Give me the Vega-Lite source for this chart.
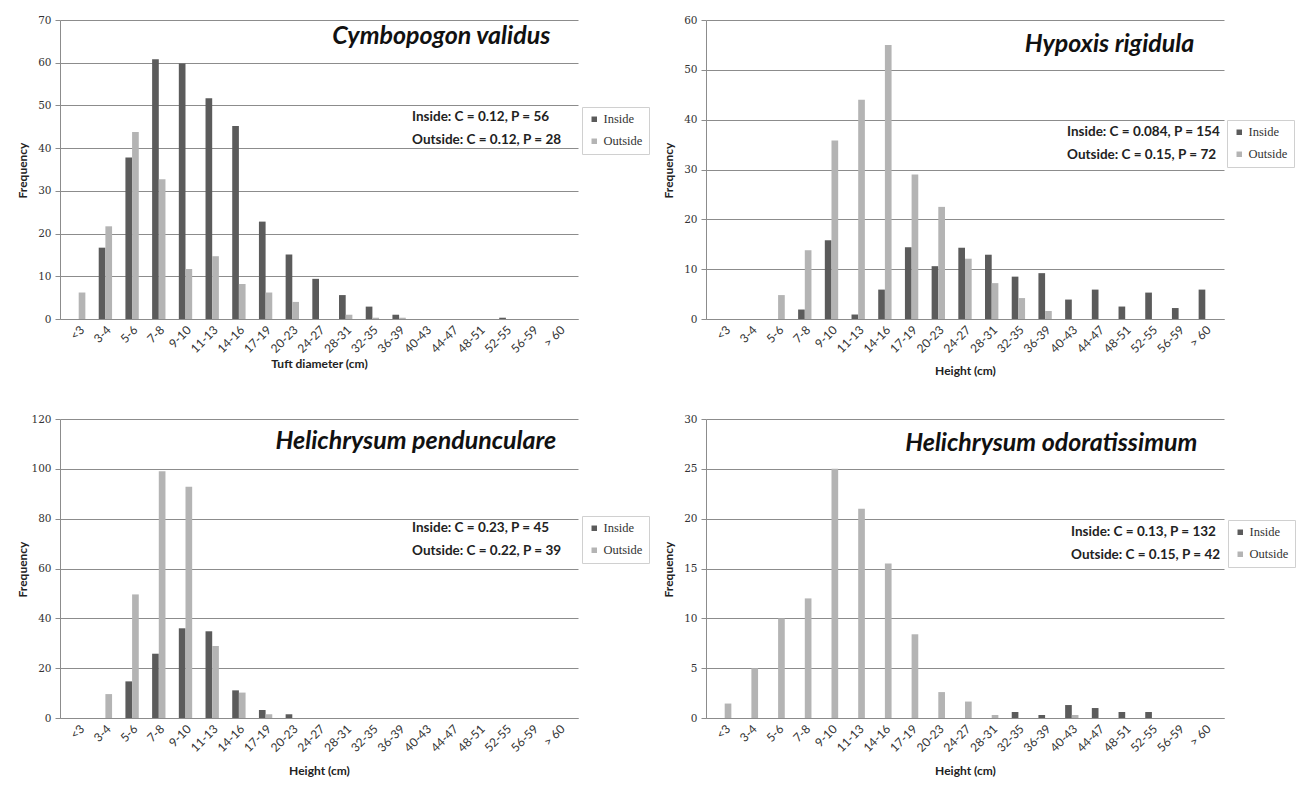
{
  "$schema": "https://vega.github.io/schema/vega-lite/v6.json",
  "background": "white",
  "padding": {"left": 16, "top": 15, "right": 0, "bottom": 5},
  "bounds": "flush",
  "columns": 2,
  "spacing": {"row": 100, "column": 128},
  "resolve": {"scale": {"color": "independent"}, "legend": {"color": "independent"}},
  "datasets": {
    "hist": [
      {"panel": "cv", "bin": "3-4", "group": "Inside", "freq": 16.7},
      {"panel": "cv", "bin": "5-6", "group": "Inside", "freq": 37.8},
      {"panel": "cv", "bin": "7-8", "group": "Inside", "freq": 60.8},
      {"panel": "cv", "bin": "9-10", "group": "Inside", "freq": 59.8},
      {"panel": "cv", "bin": "11-13", "group": "Inside", "freq": 51.7},
      {"panel": "cv", "bin": "14-16", "group": "Inside", "freq": 45.2},
      {"panel": "cv", "bin": "17-19", "group": "Inside", "freq": 22.8},
      {"panel": "cv", "bin": "20-23", "group": "Inside", "freq": 15.1},
      {"panel": "cv", "bin": "24-27", "group": "Inside", "freq": 9.4},
      {"panel": "cv", "bin": "28-31", "group": "Inside", "freq": 5.6},
      {"panel": "cv", "bin": "32-35", "group": "Inside", "freq": 2.9},
      {"panel": "cv", "bin": "36-39", "group": "Inside", "freq": 1.0},
      {"panel": "cv", "bin": "52-55", "group": "Inside", "freq": 0.3},
      {"panel": "cv", "bin": "<3", "group": "Outside", "freq": 6.2},
      {"panel": "cv", "bin": "3-4", "group": "Outside", "freq": 21.7},
      {"panel": "cv", "bin": "5-6", "group": "Outside", "freq": 43.8},
      {"panel": "cv", "bin": "7-8", "group": "Outside", "freq": 32.7},
      {"panel": "cv", "bin": "9-10", "group": "Outside", "freq": 11.7},
      {"panel": "cv", "bin": "11-13", "group": "Outside", "freq": 14.7},
      {"panel": "cv", "bin": "14-16", "group": "Outside", "freq": 8.2},
      {"panel": "cv", "bin": "17-19", "group": "Outside", "freq": 6.2},
      {"panel": "cv", "bin": "20-23", "group": "Outside", "freq": 4.0},
      {"panel": "cv", "bin": "28-31", "group": "Outside", "freq": 1.0},
      {"panel": "cv", "bin": "32-35", "group": "Outside", "freq": 0.3},
      {"panel": "cv", "bin": "36-39", "group": "Outside", "freq": 0.3},

      {"panel": "hr", "bin": "7-8", "group": "Inside", "freq": 1.9},
      {"panel": "hr", "bin": "9-10", "group": "Inside", "freq": 15.8},
      {"panel": "hr", "bin": "11-13", "group": "Inside", "freq": 0.9},
      {"panel": "hr", "bin": "14-16", "group": "Inside", "freq": 5.9},
      {"panel": "hr", "bin": "17-19", "group": "Inside", "freq": 14.4},
      {"panel": "hr", "bin": "20-23", "group": "Inside", "freq": 10.6},
      {"panel": "hr", "bin": "24-27", "group": "Inside", "freq": 14.3},
      {"panel": "hr", "bin": "28-31", "group": "Inside", "freq": 12.9},
      {"panel": "hr", "bin": "32-35", "group": "Inside", "freq": 8.5},
      {"panel": "hr", "bin": "36-39", "group": "Inside", "freq": 9.2},
      {"panel": "hr", "bin": "40-43", "group": "Inside", "freq": 3.9},
      {"panel": "hr", "bin": "44-47", "group": "Inside", "freq": 5.9},
      {"panel": "hr", "bin": "48-51", "group": "Inside", "freq": 2.5},
      {"panel": "hr", "bin": "52-55", "group": "Inside", "freq": 5.3},
      {"panel": "hr", "bin": "56-59", "group": "Inside", "freq": 2.2},
      {"panel": "hr", "bin": "> 60", "group": "Inside", "freq": 5.9},
      {"panel": "hr", "bin": "5-6", "group": "Outside", "freq": 4.8},
      {"panel": "hr", "bin": "7-8", "group": "Outside", "freq": 13.8},
      {"panel": "hr", "bin": "9-10", "group": "Outside", "freq": 35.8},
      {"panel": "hr", "bin": "11-13", "group": "Outside", "freq": 44.0},
      {"panel": "hr", "bin": "14-16", "group": "Outside", "freq": 55.0},
      {"panel": "hr", "bin": "17-19", "group": "Outside", "freq": 29.0},
      {"panel": "hr", "bin": "20-23", "group": "Outside", "freq": 22.5},
      {"panel": "hr", "bin": "24-27", "group": "Outside", "freq": 12.1},
      {"panel": "hr", "bin": "28-31", "group": "Outside", "freq": 7.2},
      {"panel": "hr", "bin": "32-35", "group": "Outside", "freq": 4.2},
      {"panel": "hr", "bin": "36-39", "group": "Outside", "freq": 1.6},

      {"panel": "hp", "bin": "5-6", "group": "Inside", "freq": 14.7},
      {"panel": "hp", "bin": "7-8", "group": "Inside", "freq": 25.8},
      {"panel": "hp", "bin": "9-10", "group": "Inside", "freq": 36.0},
      {"panel": "hp", "bin": "11-13", "group": "Inside", "freq": 34.8},
      {"panel": "hp", "bin": "14-16", "group": "Inside", "freq": 11.1},
      {"panel": "hp", "bin": "17-19", "group": "Inside", "freq": 3.2},
      {"panel": "hp", "bin": "20-23", "group": "Inside", "freq": 1.5},
      {"panel": "hp", "bin": "3-4", "group": "Outside", "freq": 9.6},
      {"panel": "hp", "bin": "5-6", "group": "Outside", "freq": 49.6},
      {"panel": "hp", "bin": "7-8", "group": "Outside", "freq": 99.0},
      {"panel": "hp", "bin": "9-10", "group": "Outside", "freq": 92.8},
      {"panel": "hp", "bin": "11-13", "group": "Outside", "freq": 28.9},
      {"panel": "hp", "bin": "14-16", "group": "Outside", "freq": 10.2},
      {"panel": "hp", "bin": "17-19", "group": "Outside", "freq": 1.5},

      {"panel": "ho", "bin": "32-35", "group": "Inside", "freq": 0.6},
      {"panel": "ho", "bin": "36-39", "group": "Inside", "freq": 0.3},
      {"panel": "ho", "bin": "40-43", "group": "Inside", "freq": 1.3},
      {"panel": "ho", "bin": "44-47", "group": "Inside", "freq": 1.0},
      {"panel": "ho", "bin": "48-51", "group": "Inside", "freq": 0.6},
      {"panel": "ho", "bin": "52-55", "group": "Inside", "freq": 0.6},
      {"panel": "ho", "bin": "<3", "group": "Outside", "freq": 1.45},
      {"panel": "ho", "bin": "3-4", "group": "Outside", "freq": 5.0},
      {"panel": "ho", "bin": "5-6", "group": "Outside", "freq": 10.0},
      {"panel": "ho", "bin": "7-8", "group": "Outside", "freq": 12.0},
      {"panel": "ho", "bin": "9-10", "group": "Outside", "freq": 25.0},
      {"panel": "ho", "bin": "11-13", "group": "Outside", "freq": 21.0},
      {"panel": "ho", "bin": "14-16", "group": "Outside", "freq": 15.5},
      {"panel": "ho", "bin": "17-19", "group": "Outside", "freq": 8.4},
      {"panel": "ho", "bin": "20-23", "group": "Outside", "freq": 2.6},
      {"panel": "ho", "bin": "24-27", "group": "Outside", "freq": 1.65},
      {"panel": "ho", "bin": "28-31", "group": "Outside", "freq": 0.3},
      {"panel": "ho", "bin": "40-43", "group": "Outside", "freq": 0.3}
    ]
  },
  "concat": [
    {
      "width": 518, "height": 299,
      "layer": [
        {
          "data": {"name": "hist"},
          "transform": [{"filter": "datum.panel === 'cv'"}],
          "mark": {"type": "bar"},
          "encoding": {
            "x": {"field": "bin", "type": "nominal", "sort": null,
              "scale": {"domain": ["<3","3-4","5-6","7-8","9-10","11-13","14-16","17-19","20-23","24-27","28-31","32-35","36-39","40-43","44-47","48-51","52-55","56-59","> 60"], "paddingInner": 0.5, "paddingOuter": 0.45},
              "axis": {"title": "Tuft diameter (cm)"}},
            "xOffset": {"field": "group", "type": "nominal", "scale": {"domain": ["Inside", "Outside"], "paddingInner": 0, "paddingOuter": 0}},
            "y": {"field": "freq", "type": "quantitative", "scale": {"domain": [0, 70], "nice": false},
              "axis": {"title": "Frequency", "values": [0,10,20,30,40,50,60,70]}},
            "color": {"field": "group", "type": "nominal",
              "scale": {"domain": ["Inside", "Outside"], "range": ["#5b5b5b", "#b4b4b4"]},
              "legend": {"title": null, "orient": "none", "legendX": 522, "legendY": 87}}
          }
        },
        {
          "data": {"values": [{}]},
          "mark": {"type": "text", "text": "Cymbopogon validus", "align": "right", "baseline": "middle", "dx": -9, "font": "Lato", "fontStyle": "italic", "fontWeight": "bold", "fontSize": 25, "color": "#111"},
          "encoding": {"x": {"datum": "> 60", "type": "nominal"}, "y": {"datum": 66.2, "type": "quantitative"}}
        },
        {
          "data": {"values": [{}]},
          "mark": {"type": "text", "text": ["Inside: C  = 0.12, P = 56", "Outside: C = 0.12, P = 28"], "align": "left", "baseline": "top", "dx": 13, "lineHeight": 23, "font": "Lato", "fontWeight": "bold", "fontSize": 13.5, "color": "#222"},
          "encoding": {"x": {"datum": "36-39", "type": "nominal"}, "y": {"datum": 49, "type": "quantitative"}}
        }
      ]
    },
    {
      "width": 518, "height": 299,
      "layer": [
        {
          "data": {"name": "hist"},
          "transform": [{"filter": "datum.panel === 'hr'"}],
          "mark": {"type": "bar"},
          "encoding": {
            "x": {"field": "bin", "type": "nominal", "sort": null,
              "scale": {"domain": ["<3","3-4","5-6","7-8","9-10","11-13","14-16","17-19","20-23","24-27","28-31","32-35","36-39","40-43","44-47","48-51","52-55","56-59","> 60"], "paddingInner": 0.5, "paddingOuter": 0.45},
              "axis": {"title": "Height (cm)", "titlePadding": 11}},
            "xOffset": {"field": "group", "type": "nominal", "scale": {"domain": ["Inside", "Outside"], "paddingInner": 0, "paddingOuter": 0}},
            "y": {"field": "freq", "type": "quantitative", "scale": {"domain": [0, 60], "nice": false},
              "axis": {"title": "Frequency", "values": [0,10,20,30,40,50,60]}},
            "color": {"field": "group", "type": "nominal",
              "scale": {"domain": ["Inside", "Outside"], "range": ["#5b5b5b", "#b4b4b4"]},
              "legend": {"title": null, "orient": "none", "legendX": 521, "legendY": 100}}
          }
        },
        {
          "data": {"values": [{}]},
          "mark": {"type": "text", "text": "Hypoxis rigidula", "align": "right", "baseline": "middle", "dx": -11, "font": "Lato", "fontStyle": "italic", "fontWeight": "bold", "fontSize": 25, "color": "#111"},
          "encoding": {"x": {"datum": "> 60", "type": "nominal"}, "y": {"datum": 55.2, "type": "quantitative"}}
        },
        {
          "data": {"values": [{}]},
          "mark": {"type": "text", "text": ["Inside: C  = 0.084, P = 154", "Outside: C = 0.15, P = 72"], "align": "left", "baseline": "top", "dx": 22, "lineHeight": 23, "font": "Lato", "fontWeight": "bold", "fontSize": 13.5, "color": "#222"},
          "encoding": {"x": {"datum": "36-39", "type": "nominal"}, "y": {"datum": 39, "type": "quantitative"}}
        }
      ]
    },
    {
      "width": 518, "height": 299,
      "layer": [
        {
          "data": {"name": "hist"},
          "transform": [{"filter": "datum.panel === 'hp'"}],
          "mark": {"type": "bar"},
          "encoding": {
            "x": {"field": "bin", "type": "nominal", "sort": null,
              "scale": {"domain": ["<3","3-4","5-6","7-8","9-10","11-13","14-16","17-19","20-23","24-27","28-31","32-35","36-39","40-43","44-47","48-51","52-55","56-59","> 60"], "paddingInner": 0.5, "paddingOuter": 0.45},
              "axis": {"title": "Height (cm)", "titlePadding": 12}},
            "xOffset": {"field": "group", "type": "nominal", "scale": {"domain": ["Inside", "Outside"], "paddingInner": 0, "paddingOuter": 0}},
            "y": {"field": "freq", "type": "quantitative", "scale": {"domain": [0, 120], "nice": false},
              "axis": {"title": "Frequency", "values": [0,20,40,60,80,100,120]}},
            "color": {"field": "group", "type": "nominal",
              "scale": {"domain": ["Inside", "Outside"], "range": ["#5b5b5b", "#b4b4b4"]},
              "legend": {"title": null, "orient": "none", "legendX": 522, "legendY": 97}}
          }
        },
        {
          "data": {"values": [{}]},
          "mark": {"type": "text", "text": "Helichrysum pendunculare", "align": "right", "baseline": "middle", "dx": -3, "font": "Lato", "fontStyle": "italic", "fontWeight": "bold", "fontSize": 25, "color": "#111"},
          "encoding": {"x": {"datum": "> 60", "type": "nominal"}, "y": {"datum": 111.2, "type": "quantitative"}}
        },
        {
          "data": {"values": [{}]},
          "mark": {"type": "text", "text": ["Inside: C  = 0.23, P = 45", "Outside: C = 0.22, P = 39"], "align": "left", "baseline": "top", "dx": 13, "lineHeight": 23, "font": "Lato", "fontWeight": "bold", "fontSize": 13.5, "color": "#222"},
          "encoding": {"x": {"datum": "36-39", "type": "nominal"}, "y": {"datum": 79, "type": "quantitative"}}
        }
      ]
    },
    {
      "width": 518, "height": 299,
      "layer": [
        {
          "data": {"name": "hist"},
          "transform": [{"filter": "datum.panel === 'ho'"}],
          "mark": {"type": "bar"},
          "encoding": {
            "x": {"field": "bin", "type": "nominal", "sort": null,
              "scale": {"domain": ["<3","3-4","5-6","7-8","9-10","11-13","14-16","17-19","20-23","24-27","28-31","32-35","36-39","40-43","44-47","48-51","52-55","56-59","> 60"], "paddingInner": 0.5, "paddingOuter": 0.45},
              "axis": {"title": "Height (cm)", "titlePadding": 12}},
            "xOffset": {"field": "group", "type": "nominal", "scale": {"domain": ["Inside", "Outside"], "paddingInner": 0, "paddingOuter": 0}},
            "y": {"field": "freq", "type": "quantitative", "scale": {"domain": [0, 30], "nice": false},
              "axis": {"title": "Frequency", "values": [0,5,10,15,20,25,30]}},
            "color": {"field": "group", "type": "nominal",
              "scale": {"domain": ["Inside", "Outside"], "range": ["#5b5b5b", "#b4b4b4"]},
              "legend": {"title": null, "orient": "none", "legendX": 522, "legendY": 101}}
          }
        },
        {
          "data": {"values": [{}]},
          "mark": {"type": "text", "text": "Helichrysum odoratissimum", "align": "right", "baseline": "middle", "dx": -8, "font": "Lato", "fontStyle": "italic", "fontWeight": "bold", "fontSize": 25, "color": "#111"},
          "encoding": {"x": {"datum": "> 60", "type": "nominal"}, "y": {"datum": 27.6, "type": "quantitative"}}
        },
        {
          "data": {"values": [{}]},
          "mark": {"type": "text", "text": ["Inside: C  = 0.13, P = 132", "Outside: C = 0.15, P = 42"], "align": "left", "baseline": "top", "dx": 26, "lineHeight": 23, "font": "Lato", "fontWeight": "bold", "fontSize": 13.5, "color": "#222"},
          "encoding": {"x": {"datum": "36-39", "type": "nominal"}, "y": {"datum": 19.4, "type": "quantitative"}}
        }
      ]
    }
  ],
  "config": {
    "view": {"stroke": null},
    "axis": {"titleFont": "Lato", "titleFontWeight": "bold", "titleFontSize": 12, "titleColor": "#222", "labelColor": "#333", "domainColor": "#8c8c8c", "gridColor": "#8c8c8c", "tickColor": "#8c8c8c"},
    "axisX": {"labelAngle": -45, "ticks": false, "grid": false, "labelFont": "Lato", "labelFontSize": 12, "labelPadding": 5, "titlePadding": 4},
    "axisY": {"labelFont": "DejaVu Serif", "labelFontSize": 10.5, "tickSize": 5, "labelPadding": 4, "titleX": -31, "titleY": 150, "grid": true},
    "legend": {"strokeColor": "#d0d0d0", "padding": 6, "symbolType": "square", "symbolSize": 30, "symbolStrokeWidth": 0, "labelFont": "Liberation Serif", "labelFontSize": 12.5, "labelColor": "#333", "rowPadding": 9, "labelOffset": 3, "fillColor": "white"}
  }
}
